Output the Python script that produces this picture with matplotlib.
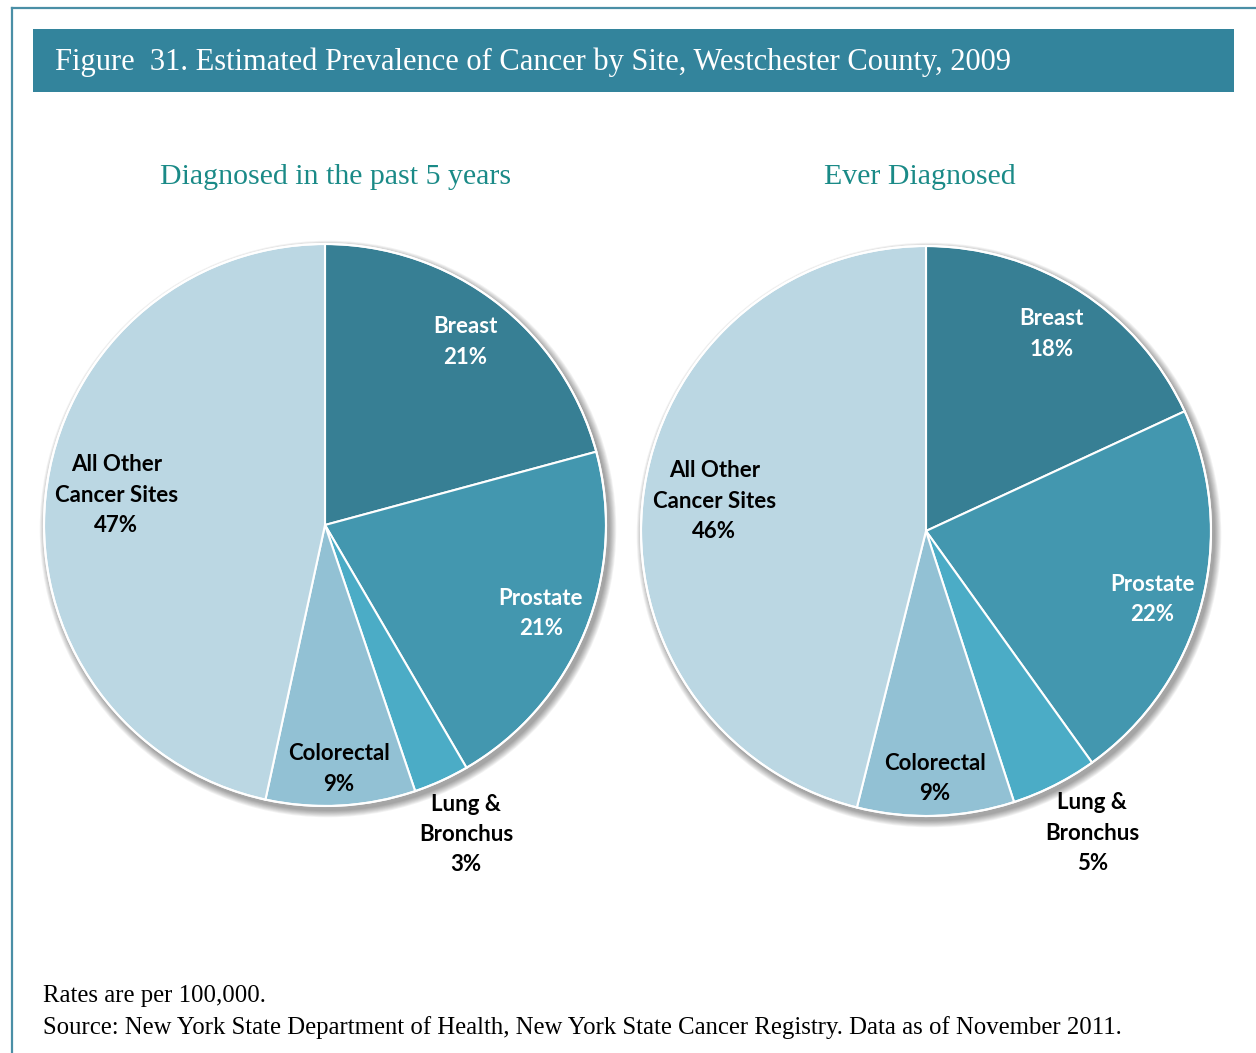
import matplotlib
matplotlib.use("Agg")
import matplotlib.pyplot as plt
from matplotlib.patches import Rectangle, Circle
from matplotlib.lines import Line2D
import numpy as np

# ---------------- data ----------------
sites = ["Breast", "Prostate", "Lung &\nBronchus", "Colorectal", "All Other\nCancer Sites"]
past5_share = [20.8, 20.8, 3.2, 8.6, 46.6]
past5_pct = ["21%", "21%", "3%", "9%", "47%"]
ever_share = [18.1, 22.0, 4.9, 8.9, 46.1]
ever_pct = ["18%", "22%", "5%", "9%", "46%"]
colors = ["#377F94", "#4397AF", "#4BACC6", "#92C1D4", "#BBD7E3"]
label_colors = ["white", "white", "black", "black", "black"]
label_radius = [0.82, 0.83, 1.21, 0.87, 0.75]

title = "Figure  31. Estimated Prevalence of Cancer by Site, Westchester County, 2009"
sub1 = "Diagnosed in the past 5 years"
sub2 = "Ever Diagnosed"
foot1 = "Rates are per 100,000."
foot2 = "Source: New York State Department of Health, New York State Cancer Registry. Data as of November 2011."

W, H = 1256, 1053
fig = plt.figure(figsize=(W / 100, H / 100), dpi=100)
ax = fig.add_axes([0, 0, 1, 1])
ax.set_xlim(0, W)
ax.set_ylim(0, H)
ax.set_aspect("equal")
ax.axis("off")

def Y(y):
    return H - y

# frame lines
ax.add_line(Line2D([12, W], [Y(8), Y(8)], color="#4A8FA6", lw=1.6))
ax.add_line(Line2D([12, 12], [Y(8), 0], color="#4A8FA6", lw=1.6))

# banner
ax.add_patch(Rectangle((33, Y(92)), 1234 - 33, 92 - 29, facecolor="#33849C", edgecolor="none"))
ax.text(55, Y(62), title, color="white", fontsize=22, family="Liberation Serif",
        ha="left", va="center")

serif_teal = "#1A8A87"
ax.text(336, Y(177), sub1, color=serif_teal, fontsize=21.5, family="Liberation Serif",
        ha="center", va="center")
ax.text(920, Y(177), sub2, color=serif_teal, fontsize=21.5, family="Liberation Serif",
        ha="center", va="center")

def draw_pie(cx, cy, r, shares, pcts, ang_shift):
    # soft shadow
    for k in range(8):
        ax.add_patch(Circle((cx + 3, Y(cy) - 4), r + 1 + k * 0.9, facecolor="#000000",
                            alpha=0.05, edgecolor="none", zorder=1))
    wedges, _ = ax.pie(shares, colors=colors, startangle=90, counterclock=False,
                       center=(cx, Y(cy)), radius=r, frame=True,
                       wedgeprops=dict(edgecolor="white", linewidth=1.5, zorder=2))
    ax.add_patch(Circle((cx, Y(cy)), r, facecolor="none", edgecolor="white", lw=1.5, zorder=3))
    for w, name, pct, col, lr, sh in zip(wedges, sites, pcts, label_colors, label_radius, ang_shift):
        ang = np.deg2rad((w.theta1 + w.theta2) / 2 + sh)
        x = cx + lr * r * np.cos(ang)
        y = Y(cy) + lr * r * np.sin(ang)
        ax.text(x, y, name + "\n" + pct, color=col, fontsize=16, family="Lato",
                fontweight="bold", ha="center", va="center", linespacing=1.55, zorder=5)

draw_pie(325, 525, 281, past5_share, past5_pct, [0, 0, 0, 0, -2])
draw_pie(926, 531, 285, ever_share, ever_pct, [0, -2, 2, 0, -1])

ax.set_xlim(0, W)
ax.set_ylim(0, H)
ax.axis("off")

ax.text(43, Y(996), foot1, color="black", fontsize=17.8, family="Liberation Serif",
        ha="left", va="center")
ax.text(43, Y(1028), foot2, color="black", fontsize=17.8, family="Liberation Serif",
        ha="left", va="center")

fig.savefig("out.png", dpi=100, facecolor="white")
